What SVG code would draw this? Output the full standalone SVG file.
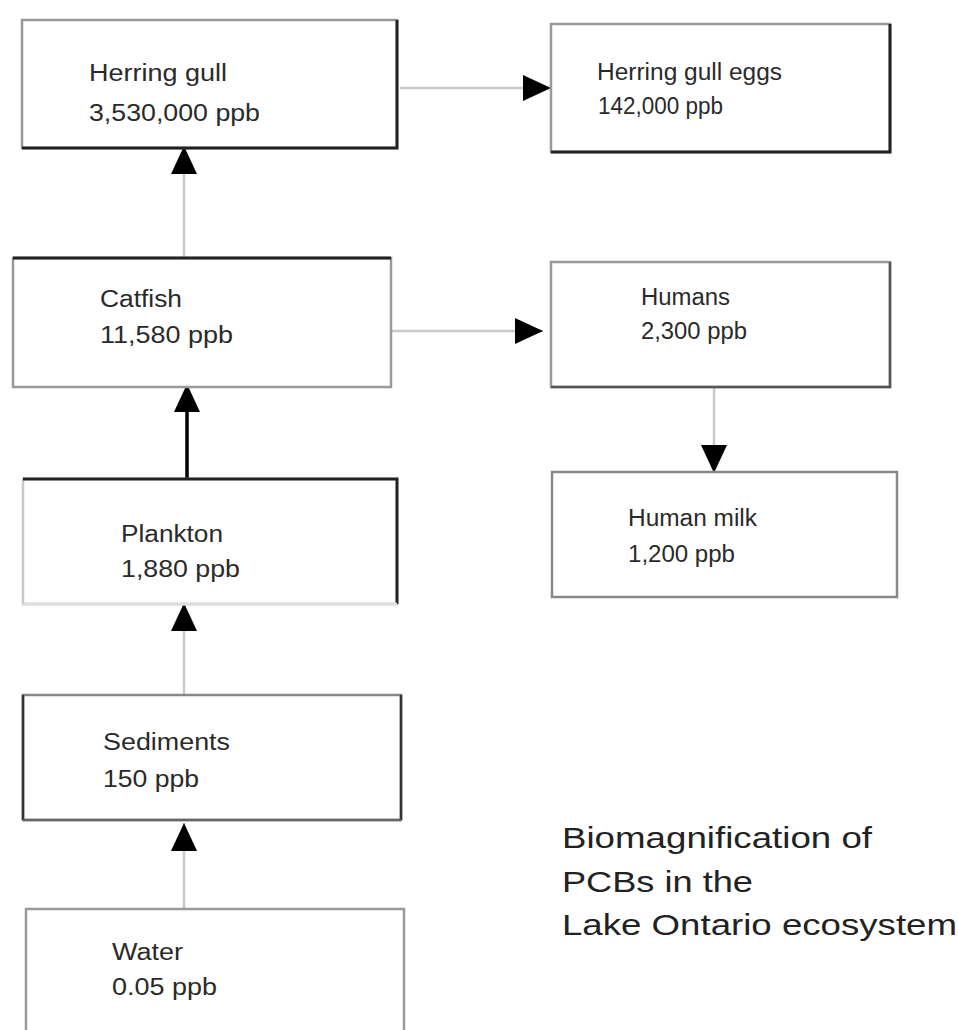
<svg xmlns="http://www.w3.org/2000/svg" width="958" height="1030" viewBox="0 0 958 1030">
<defs>
<marker id="ah" markerUnits="userSpaceOnUse" markerWidth="28" markerHeight="26" refX="28" refY="13" orient="auto">
<path d="M0,0 L28,13 L0,26 Z" fill="#000"/>
</marker>
<style>
.box{fill:#fff;stroke:#999;stroke-width:2.5}
.dk{stroke:#222;stroke-width:3}
.md{stroke:#555;stroke-width:2.5}
.lt{stroke:#ccc;stroke-width:2.5}
.t{font-family:"Liberation Sans",Arial,sans-serif;font-size:23px;fill:#2a2a2a}
.title{font-family:"Liberation Sans",Arial,sans-serif;font-size:30px;fill:#222}
.c{fill:none;stroke:#c8c8c8;stroke-width:2.5}
.cb{fill:none;stroke:#000;stroke-width:3.5}
</style>
</defs>
<rect width="958" height="1030" fill="#fff"/>

<g id="connectors">
<line class="c" x1="400" y1="88" x2="551" y2="88" marker-end="url(#ah)"/>
<line class="c" x1="184" y1="258" x2="184" y2="146" marker-end="url(#ah)"/>
<line class="cb" x1="187" y1="479" x2="187" y2="384" marker-end="url(#ah)"/>
<line class="c" x1="391" y1="331" x2="543" y2="331" marker-end="url(#ah)"/>
<line class="c" x1="714" y1="387" x2="714" y2="473" marker-end="url(#ah)"/>
<line class="c" x1="184" y1="695" x2="184" y2="603" marker-end="url(#ah)"/>
<line class="c" x1="184" y1="909" x2="184" y2="823" marker-end="url(#ah)"/>
</g>

<g id="node-herring-gull">
<rect class="box" x="22" y="20" width="375" height="128"/>
<polyline points="397,20 397,148 22,148" fill="none" class="dk"/>
<text class="t" x="89" y="81" textLength="138" lengthAdjust="spacingAndGlyphs">Herring gull</text>
<text class="t" x="89" y="121" textLength="171" lengthAdjust="spacingAndGlyphs">3,530,000 ppb</text>
</g>

<g id="node-herring-gull-eggs">
<rect class="box" x="551" y="24" width="339" height="128"/>
<polyline points="890,24 890,152 551,152" fill="none" class="dk"/>
<text class="t" x="597" y="80" textLength="185" lengthAdjust="spacingAndGlyphs">Herring gull eggs</text>
<text class="t" x="598" y="114" textLength="125" lengthAdjust="spacingAndGlyphs">142,000 ppb</text>
</g>

<g id="node-catfish">
<rect class="box" x="13" y="258" width="378" height="129"/>
<line class="dk" x1="13" y1="258" x2="391" y2="258"/>
<text class="t" x="100" y="307" textLength="82" lengthAdjust="spacingAndGlyphs">Catfish</text>
<text class="t" x="100" y="343" textLength="133" lengthAdjust="spacingAndGlyphs">11,580 ppb</text>
</g>

<g id="node-humans">
<rect class="box" x="551" y="262" width="339" height="125"/>
<polyline points="890,262 890,387 551,387" fill="none" class="md"/>
<text class="t" x="641" y="305" textLength="89" lengthAdjust="spacingAndGlyphs">Humans</text>
<text class="t" x="641" y="339" textLength="106" lengthAdjust="spacingAndGlyphs">2,300 ppb</text>
</g>

<g id="node-human-milk">
<rect class="box" x="552" y="472" width="345" height="125" style="stroke:#888"/>
<text class="t" x="628" y="526" textLength="129" lengthAdjust="spacingAndGlyphs">Human milk</text>
<text class="t" x="628" y="562" textLength="107" lengthAdjust="spacingAndGlyphs">1,200 ppb</text>
</g>

<g id="node-plankton">
<rect class="box" x="23" y="479" width="374" height="125" style="stroke:#c8c8c8"/>
<polyline points="23,479 397,479 397,604" fill="none" class="dk"/>
<line x1="23" y1="604" x2="397" y2="604" stroke="#ddd" stroke-width="3"/>
<text class="t" x="121" y="542" textLength="102" lengthAdjust="spacingAndGlyphs">Plankton</text>
<text class="t" x="121" y="577" textLength="119" lengthAdjust="spacingAndGlyphs">1,880 ppb</text>
</g>

<g id="node-sediments">
<rect class="box" x="23" y="695" width="378" height="125" style="stroke:#888"/>
<line class="md" x1="23" y1="695" x2="23" y2="820" style="stroke:#333"/>
<line class="md" x1="401" y1="695" x2="401" y2="820" style="stroke:#333"/>
<line class="md" x1="23" y1="820" x2="401" y2="820" style="stroke:#666"/>
<text class="t" x="103" y="750" textLength="127" lengthAdjust="spacingAndGlyphs">Sediments</text>
<text class="t" x="103" y="787" textLength="96" lengthAdjust="spacingAndGlyphs">150 ppb</text>
</g>

<g id="node-water">
<rect class="box" x="26" y="909" width="378" height="140" style="stroke:#9a9a9a"/>
<text class="t" x="112" y="960" textLength="71" lengthAdjust="spacingAndGlyphs">Water</text>
<text class="t" x="112" y="995" textLength="105" lengthAdjust="spacingAndGlyphs">0.05 ppb</text>
</g>

<g id="title">
<text class="title" x="562" y="848" textLength="310" lengthAdjust="spacingAndGlyphs">Biomagnification of</text>
<text class="title" x="562" y="892" textLength="191" lengthAdjust="spacingAndGlyphs">PCBs in the</text>
<text class="title" x="562" y="935" textLength="395" lengthAdjust="spacingAndGlyphs">Lake Ontario ecosystem</text>
</g>
</svg>
